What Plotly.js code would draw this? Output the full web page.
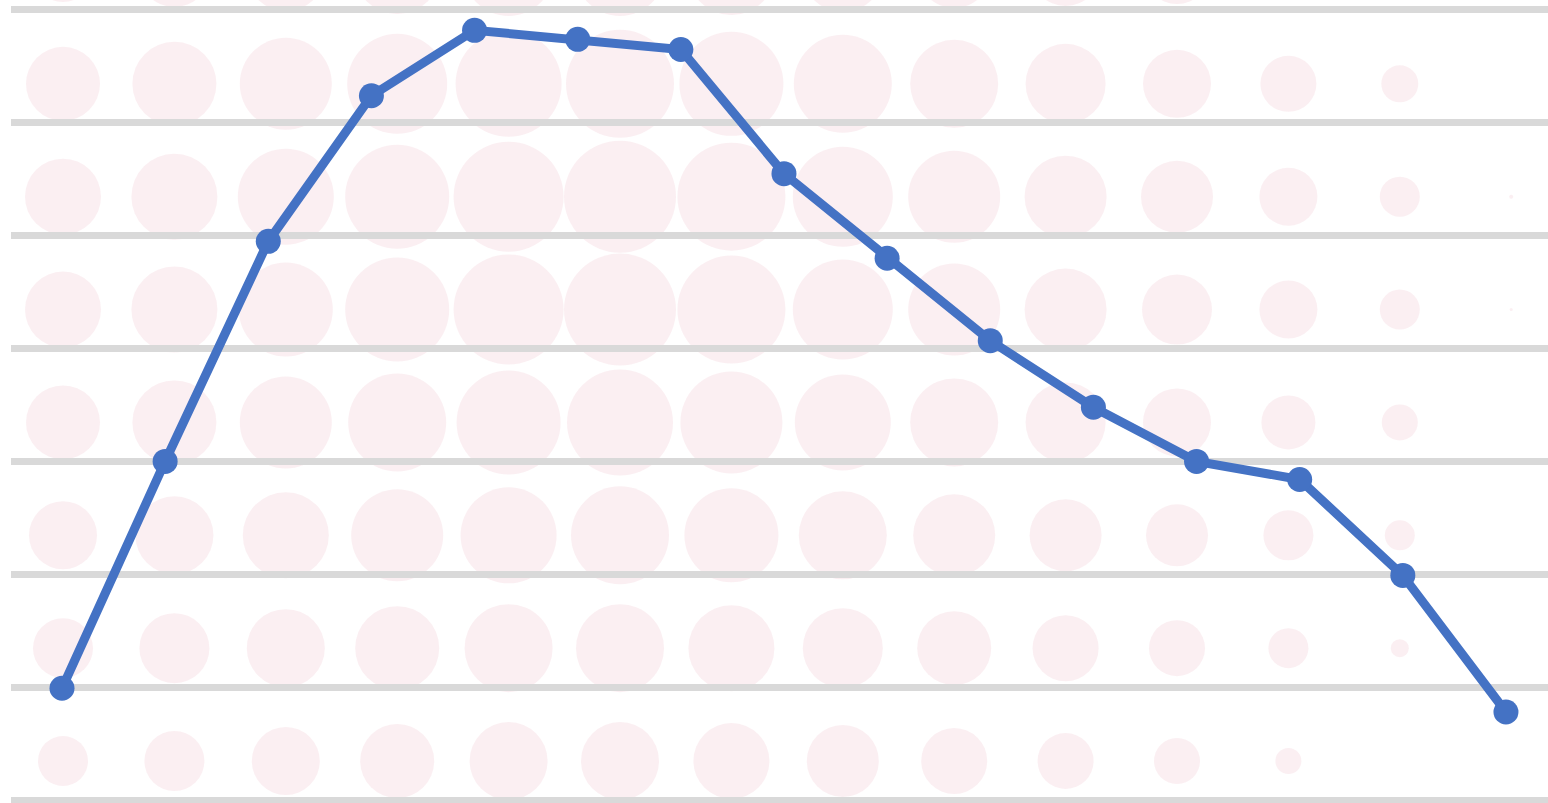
<!DOCTYPE html>
<html>
<head>
<meta charset="utf-8">
<script src="https://cdn.plot.ly/plotly-3.0.1.min.js"></script>
<style>
html,body{margin:0;padding:0;background:#fff;}
#chart{width:1548px;height:803px;}
</style>
</head>
<body>
<div id="chart"></div>
<script>
// Line series (15 points)
const categories = [1,2,3,4,5,6,7,8,9,10,11,12,13,14,15];
const lineValues = [0.99, 3.00, 4.95, 6.24, 6.82, 6.74, 6.65, 5.55, 4.80, 4.07, 3.48, 3.00, 2.84, 1.99, 0.78];

// Decorative background bubble grid: 14 columns, 8 rows (bottom row first), diameters
const bubbleColumns = [1,2,3,4,5,6,7,8,9,10,11,12,13,14];
const bubbleRow0 = [50, 60, 68, 74, 78, 78, 76, 72, 66, 56, 46, 26, 0, 0];
const bubbleRow1 = [60, 70, 78, 84, 88, 88, 86, 80, 74, 66, 56, 40, 18, 0];
const bubbleRow2 = [68, 78, 86, 92, 96, 98, 94, 88, 82, 72, 62, 50, 30, 0];
const bubbleRow3 = [74, 84, 92, 98, 104, 106, 102, 96, 88, 80, 68, 54, 36, 0];
const bubbleRow4 = [76, 86, 94, 104, 110, 112, 108, 100, 92, 82, 70, 58, 40, 3];
const bubbleRow5 = [76, 86, 96, 104, 110, 112, 108, 100, 92, 82, 72, 58, 40, 4];
const bubbleRow6 = [74, 84, 92, 100, 106, 108, 104, 98, 88, 80, 68, 56, 37, 0];
const bubbleRow7 = [62, 72, 80, 86, 90, 90, 88, 82, 74, 70, 66, 58, 10, 0];
const bubbleRows = [bubbleRow0, bubbleRow1, bubbleRow2, bubbleRow3, bubbleRow4, bubbleRow5, bubbleRow6, bubbleRow7];

const bx = [], by = [], bs = [];
bubbleRows.forEach((row, r) => {
  row.forEach((s, c) => {
    if (s > 0) { bx.push(bubbleColumns[c]); by.push(r); bs.push(s); }
  });
});

const traces = [
  {
    type: 'scatter', mode: 'markers',
    x: bx, y: by, xaxis: 'x', yaxis: 'y',
    marker: { size: bs, color: '#f9e8ed', line: { width: 0 } },
    hoverinfo: 'skip', showlegend: false
  },
  {
    type: 'scatter', mode: 'lines+markers',
    x: categories, y: lineValues, xaxis: 'x2', yaxis: 'y2',
    line: { color: '#4472C4', width: 9 },
    marker: { size: 25, color: '#4472C4' },
    cliponaxis: false,
    showlegend: false
  }
];

const pxPerUnit = 112.86;
const layout = {
  width: 1548, height: 803,
  margin: { l: 11, r: 0, t: 0, b: 0, pad: 0 },
  paper_bgcolor: '#ffffff',
  plot_bgcolor: 'rgba(0,0,0,0)',
  showlegend: false,
  xaxis: {
    domain: [0, 1], range: [1 - 52/111.4, 1 + (1548 - 63)/111.4],
    visible: false, showgrid: false, zeroline: false, fixedrange: true
  },
  yaxis: {
    domain: [0, 1], range: [(761 - 803)/pxPerUnit, 761/pxPerUnit],
    visible: false, showgrid: false, zeroline: false, fixedrange: true
  },
  xaxis2: {
    domain: [0, 1], anchor: 'y2', range: [1 - 51/103.14, 1 + (1548 - 62)/103.14],
    showgrid: false, zeroline: false, showticklabels: false, showline: false, ticks: ''
  },
  yaxis2: {
    domain: [0, 1], anchor: 'x2', range: [-3/pxPerUnit, 800/pxPerUnit],
    showgrid: true, gridcolor: '#d9d9d9', gridwidth: 7, dtick: 1, tick0: 0,
    zeroline: false, showticklabels: false, showline: false, ticks: ''
  }
};

Plotly.newPlot('chart', traces, layout, { displayModeBar: false, staticPlot: true });
</script>
</body>
</html>
